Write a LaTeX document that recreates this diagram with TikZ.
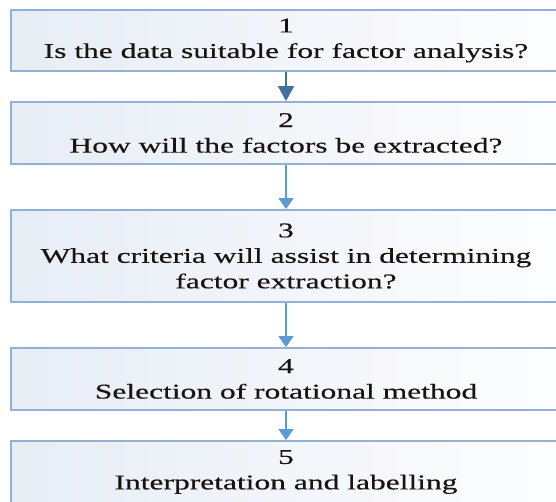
\documentclass[tikz,border=0pt]{standalone}
\usepackage{fontspec}
\setmainfont[FakeStretch=1.5,FakeBold=0.4]{Liberation Serif}
\usetikzlibrary{arrows.meta}
\definecolor{boxedge}{HTML}{93B1D6}
\definecolor{boxfillL}{HTML}{E7EDF6}
\definecolor{arrdark}{HTML}{41719C}
\definecolor{arrlight}{HTML}{5B9BD5}
\definecolor{txt}{HTML}{1A1410}
\begin{document}
\begin{tikzpicture}[x=1pt,y=-1pt,
  stepbox/.style={draw=boxedge, line width=1.8pt, left color=boxfillL, right color=white,
    minimum width=600pt, inner sep=0pt, anchor=west},
  steptext/.style={align=center, text=txt, inner sep=0pt,
    font=\fontsize{21}{25.5}\selectfont},
  arrd/.style={draw=arrdark, line width=1.6pt, -{Triangle[width=16pt,length=15pt]}},
  arrl/.style={draw=arrlight, line width=1.4pt, -{Triangle[width=15pt,length=11pt]}}]
\useasboundingbox (0,0) rectangle (556,502);
\clip (0,0) rectangle (556,502);
\node[stepbox, minimum height=61pt] (b1) at (10,40.5) {};
\node[stepbox, minimum height=62pt] (b2) at (10,133) {};
\node[stepbox, minimum height=92pt] (b3) at (10,256) {};
\node[stepbox, minimum height=62pt] (b4) at (10,379) {};
\node[stepbox, minimum height=62pt] (b5) at (10,472) {};
\node[steptext] (t1) at (286,40.5) {1\\Is the data suitable for factor analysis?};
\node[steptext] (t2) at (286,133) {2\\How will the factors be extracted?};
\node[steptext] (t3) at (286,256) {3\\What criteria will assist in determining\\factor extraction?};
\node[steptext] (t4) at (286,379) {4\\Selection of rotational method};
\node[steptext] (t5) at (286,472) {5\\Interpretation and labelling};
\draw[arrd] (t1 |- b1.south) -- (t2 |- b2.north);
\draw[arrl] (t2 |- b2.south) -- (t3 |- b3.north);
\draw[arrl] (t3 |- b3.south) -- (t4 |- b4.north);
\draw[arrl] (t4 |- b4.south) -- (t5 |- b5.north);
\end{tikzpicture}
\end{document}
